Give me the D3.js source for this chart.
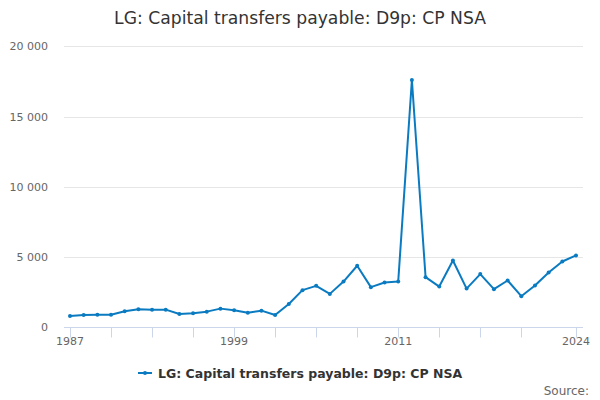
<!DOCTYPE html>
<html><head><meta charset="utf-8">
<script src="https://cdn.jsdelivr.net/npm/d3@7"></script>
<style>body{margin:0;background:#fff}svg{font-family:"DejaVu Sans",sans-serif}</style>
</head><body>
<svg id="c" width="600" height="400"></svg>
<script>
const years = d3.range(1987, 2025);
const values = [807, 879, 900, 890, 1140, 1286, 1257, 1257, 950, 1000, 1114, 1329, 1214,
  1043, 1186, 879, 1664, 2643, 2950, 2379, 3257, 4379, 2857, 3186, 3257, 17600,
  3571, 2900, 4757, 2757, 3786, 2714, 3329, 2214, 2971, 3900, 4686, 5114];
const yTicks = [0, 5000, 10000, 15000, 20000];
const xTicks = [1987, 1990, 1993, 1996, 1999, 2002, 2005, 2008, 2011, 2014, 2017, 2020, 2024];
const xLabels = [1987, 1999, 2011, 2024];
const title = "LG: Capital transfers payable: D9p: CP NSA";
const seriesName = "LG: Capital transfers payable: D9p: CP NSA";
const color = "#0b7bc1";

const svg = d3.select("#c");
const plotL = 64, plotR = 583;
const x = d3.scaleLinear().domain([1987, 2024]).range([70, 576]);
const y = d3.scaleLinear().domain([0, 20000]).range([327.3, 46.3]);
const fmt = v => d3.format(",")(v).replace(/,/g, " ");

svg.append("text").attr("x", 300).attr("y", 24).attr("text-anchor", "middle")
  .attr("font-size", 17.2).attr("fill", "#333").text(title);

// grid
svg.append("g").selectAll("line").data(yTicks.filter(d => d > 0)).join("line")
  .attr("x1", plotL).attr("x2", plotR).attr("y1", d => Math.round(y(d)) + 0.5).attr("y2", d => Math.round(y(d)) + 0.5)
  .attr("stroke", "#e6e6e6");
svg.append("g").selectAll("text").data(yTicks).join("text")
  .attr("x", 48).attr("y", d => y(d) + 4).attr("text-anchor", "end")
  .attr("font-size", 11).attr("fill", "#666").text(fmt);

// x axis
svg.append("line").attr("x1", plotL).attr("x2", plotR).attr("y1", 327.5).attr("y2", 327.5).attr("stroke", "#ccd6eb");
svg.append("g").selectAll("line").data(xTicks).join("line")
  .attr("x1", d => Math.round(x(d)) + 0.5).attr("x2", d => Math.round(x(d)) + 0.5)
  .attr("y1", 327.5).attr("y2", 337.5).attr("stroke", "#ccd6eb");
svg.append("g").selectAll("text").data(xLabels).join("text")
  .attr("x", d => x(d)).attr("y", 345).attr("text-anchor", "middle")
  .attr("font-size", 11).attr("fill", "#666").text(d => d);

// line
const data = years.map((yr, i) => ({yr, v: values[i]}));
svg.append("path").datum(data)
  .attr("d", d3.line().x(d => x(d.yr)).y(d => y(d.v)))
  .attr("fill", "none").attr("stroke", color).attr("stroke-width", 2).attr("stroke-linejoin", "round");
svg.append("g").selectAll("circle").data(data).join("circle")
  .attr("cx", d => x(d.yr)).attr("cy", d => y(d.v)).attr("r", 2).attr("fill", color);

// legend
const lg = svg.append("g");
lg.append("line").attr("x1", 138).attr("x2", 152).attr("y1", 373).attr("y2", 373).attr("stroke", color).attr("stroke-width", 2);
lg.append("circle").attr("cx", 145).attr("cy", 373).attr("r", 2).attr("fill", color);
lg.append("text").attr("x", 158).attr("y", 377.5).attr("font-size", 12.5).attr("font-weight", "bold")
  .attr("fill", "#333").text(seriesName);

svg.append("text").attr("x", 589).attr("y", 395).attr("text-anchor", "end")
  .attr("font-size", 12).attr("fill", "#666").text("Source:");
</script>
</body></html>
